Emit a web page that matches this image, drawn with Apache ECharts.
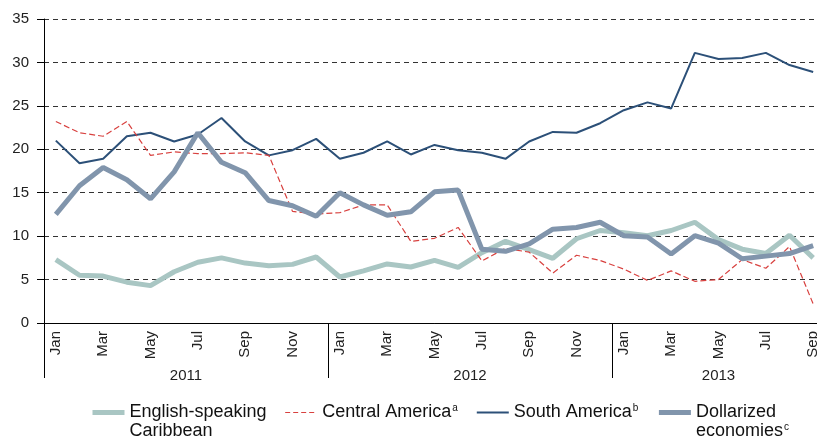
<!DOCTYPE html>
<html lang="en">
	<head>
		<meta charset="UTF-8" />
		<title>Inflation by subregion</title>
		<script src="https://cdn.jsdelivr.net/npm/echarts@6/dist/echarts.min.js"></script>
		<style>
			html, body { margin: 0; padding: 0; background: #fff; overflow: hidden; }
		</style>
	</head>
	<body>
		<!-- a little wider than the window: the last month is cut at the right edge, as in the source -->
		<div id="myChart" style="width: 825px; height: 438px"></div>

		<script>
			const monthNames = ["Jan", "Feb", "Mar", "Apr", "May", "Jun", "Jul", "Aug", "Sep", "Oct", "Nov", "Dec"];
			const yearLabels = ["2011", "2012", "2013"];
			const yearStarts = [0, 12, 24];
			const yearLabelPos = [6, 18, 28.5];
			const monthCount = [12, 12, 9];

			const caribbean = [7.3, 5.5, 5.4, 4.7, 4.3, 5.9, 7.0, 7.5, 6.9, 6.6, 6.75, 7.6,
				5.3, 6.0, 6.8, 6.45, 7.2, 6.4, 8.1, 9.4, 8.45, 7.45, 9.7, 10.65,
				10.4, 10.05, 10.65, 11.6, 9.6, 8.5, 8.0, 10.1, 7.5];
			const centralAmerica = [23.2, 21.9, 21.5, 23.2, 19.3, 19.7, 19.5, 19.5, 19.6, 19.3, 12.85, 12.55,
				12.7, 13.6, 13.6, 9.4, 9.75, 11.0, 7.15, 8.6, 8.15, 5.75, 7.8, 7.2,
				6.2, 4.9, 6.0, 4.8, 5.0, 7.3, 6.3, 8.8, 2.2];
			const southAmerica = [21.0, 18.4, 18.9, 21.5, 21.9, 20.9, 21.7, 23.6, 20.9, 19.3, 19.9, 21.2,
				18.9, 19.6, 20.9, 19.4, 20.5, 19.9, 19.6, 18.9, 20.9, 22.0, 21.9, 23.0,
				24.5, 25.4, 24.7, 31.1, 30.4, 30.5, 31.1, 29.7, 28.9];
			const dollarized = [12.5, 15.8, 17.9, 16.5, 14.3, 17.4, 21.9, 18.5, 17.3, 14.1, 13.5, 12.3,
				15.0, 13.6, 12.4, 12.8, 15.1, 15.3, 8.5, 8.25, 9.1, 10.8, 11.0, 11.6,
				10.05, 9.9, 7.95, 10.05, 9.2, 7.4, 7.7, 8.0, 8.9];

			const categories = [];
			monthCount.forEach((n) => {
				for (let i = 0; i < n; i++) categories.push(monthNames[i]);
			});

			const font = "'Liberation Sans', Arial, sans-serif";
			const legendLabels = {
				"English-speaking Caribbean": "English-speaking\nCaribbean",
				"Central America": "Central America{sup|a}",
				"South America": "South America{sup|b}",
				"Dollarized economies": "Dollarized\neconomies{sup|c}",
			};

			const chartContainer = document.getElementById("myChart");
			const myChart = echarts.init(chartContainer);

			function lineSeries(name, data, color, width, type) {
				return {
					name: name,
					type: "line",
					data: data,
					symbol: "none",
					animation: false,
					lineStyle: { color: color, width: width, type: type || "solid" },
					itemStyle: { color: color },
					emphasis: { disabled: true },
				};
			}

			function renderChart() {
				const option = {
					animation: false,
					textStyle: { fontFamily: font },
					grid: { left: 44, right: 0, top: 19, bottom: 115 },
					xAxis: [
						{
							type: "category",
							data: categories,
							boundaryGap: true,
							axisLine: { lineStyle: { color: "#000", width: 1 } },
							axisTick: { interval: 0, length: 5, lineStyle: { color: "#000" } },
							axisLabel: {
								interval: 1,
								rotate: 90,
								margin: 8,
								fontSize: 15,
								color: "#222",
								fontFamily: font,
							},
							splitLine: { show: false },
						},
						{
							type: "value",
							position: "bottom",
							min: 0,
							max: 33,
							axisLine: { show: false },
							axisTick: {
								show: true,
								customValues: yearStarts,
								length: 55,
								lineStyle: { color: "#000" },
							},
							axisLabel: {
								customValues: yearLabelPos,
								margin: 45,
								fontSize: 15,
								color: "#222",
								fontFamily: font,
								formatter: (v) => yearLabels[yearLabelPos.indexOf(v)] || "",
							},
							splitLine: { show: false },
						},
					],
					yAxis: {
						type: "value",
						min: 0,
						max: 35,
						interval: 5,
						axisLine: { show: true, lineStyle: { color: "#000", width: 1 } },
						axisTick: { show: true, length: 7, lineStyle: { color: "#000" } },
						axisLabel: { margin: 15, fontSize: 15, color: "#222", fontFamily: font },
						splitLine: { lineStyle: { color: "#333", type: [5, 4], width: 1 } },
					},
					legend: {
						left: 85,
						top: 379,
						itemWidth: 32,
						itemHeight: 12,
						itemGap: 18,
						itemStyle: { opacity: 0 },
						textStyle: {
							fontSize: 18,
							lineHeight: 19,
							color: "#111",
							fontFamily: font,
							rich: {
								sup: { fontSize: 10, padding: [0, 0, 9, 1], fontFamily: font, color: "#111" },
							},
						},
						formatter: (name) => legendLabels[name],
						data: [
							{ name: "English-speaking Caribbean", lineStyle: { width: 5 }, textStyle: { padding: [19, 0, 0, 0] } },
							{ name: "Central America", lineStyle: { width: 1.2, type: [5, 3] } },
							{ name: "South America", lineStyle: { width: 2 } },
							{ name: "Dollarized economies", lineStyle: { width: 5 }, textStyle: { padding: [19, 0, 0, 0] } },
						],
					},
					series: [
						lineSeries("English-speaking Caribbean", caribbean, "#a9c6c3", 5),
						lineSeries("South America", southAmerica, "#2c5078", 2),
						lineSeries("Central America", centralAmerica, "#d8413f", 1.2, [6, 3]),
						lineSeries("Dollarized economies", dollarized, "#8195ac", 5),
					],
				};

				myChart.setOption(option);
			}

			renderChart();

			window.addEventListener("resize", function () {
				myChart.resize();
			});
		</script>
	</body>
</html>
